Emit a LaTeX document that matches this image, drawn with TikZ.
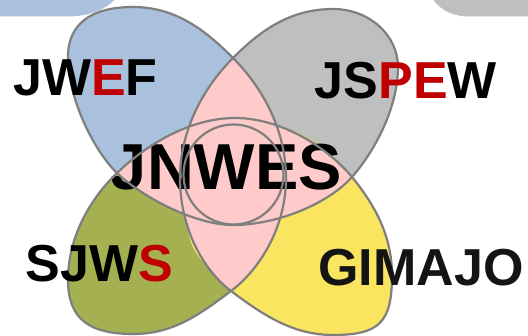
\documentclass[tikz,border=0pt]{standalone}
\usepackage{fontspec}
\setmainfont{Liberation Sans}
\definecolor{lobeblue}{HTML}{A9C1DC}
\definecolor{lobegray}{HTML}{BFBFBF}
\definecolor{lobeolive}{HTML}{A5B150}
\definecolor{lobeyellow}{HTML}{FAE560}
\definecolor{pinkc}{HTML}{FFCACA}
\definecolor{lineg}{HTML}{7F7F7F}
\definecolor{redc}{HTML}{C00000}
\definecolor{khakic}{HTML}{C9C69B}
\definecolor{darktxt}{HTML}{141414}
\begin{document}
\begin{tikzpicture}[x=1pt,y=-1pt,
  outline/.style={draw=lineg, line width=2.2pt},
  cornertxt/.style={font=\fontsize{52}{52}\selectfont\bfseries, inner sep=0pt, anchor=base},
  centertxt/.style={font=\fontsize{65}{65}\selectfont\bfseries, inner sep=0pt, anchor=base}]
\useasboundingbox (0,0) rectangle (528,336);
% partial shapes in the top corners
\fill[lobeblue] (-2,-2) -- (-2,16.5) -- (67,16.5) .. controls (88,16.5) and (106,10) .. (116,-2) -- cycle;
\fill[lobegray] (432,-2) .. controls (440,10) and (452,16.5) .. (470,16.5) -- (530,16.5) -- (530,-2) -- cycle;
% lobes
\begin{scope}
\clip (133,7) .. controls (178,7) and (208,33) .. (233,58)
 .. controls (265,90) and (286,133) .. (286,178)
 .. controls (286,228) and (259,270) .. (231,291)
 .. controls (199,315) and (173,334) .. (133,334)
 .. controls (88,334) and (68,318) .. (68,280)
 .. controls (68,235) and (92,197) .. (117,173)
 .. controls (146,145) and (190,118) .. (235,118)
 .. controls (280,118) and (326,146) .. (352,177)
 .. controls (374,204) and (392,235) .. (392,275)
 .. controls (392,322) and (380,335) .. (333,335)
 .. controls (293,335) and (263,315) .. (231,291)
 .. controls (203,270) and (180,228) .. (180,178)
 .. controls (180,133) and (201,90) .. (233,58)
 .. controls (258,33) and (288,9) .. (333,9)
 .. controls (369,9) and (398,35) .. (398,67)
 .. controls (398,107) and (375,151) .. (352,177)
 .. controls (329,203) and (278,225) .. (233,225)
 .. controls (195,225) and (142,197) .. (117,173)
 .. controls (95,152) and (68,100) .. (68,57)
 .. controls (68,24) and (91,7) .. (133,7) -- cycle;
\fill[lobeblue] (-10,-10) -- (233,-10) -- (233,175) -- (117,173) -- (-10,173) -- cycle;
\fill[lobegray] (233,-10) -- (540,-10) -- (540,177) -- (352,177) -- (233,175) -- cycle;
\fill[lobeolive] (-10,173) -- (117,173) -- (233,175) -- (231,291) -- (231,350) -- (-10,350) -- cycle;
\fill[lobeyellow] (352,177) -- (540,177) -- (540,350) -- (231,350) -- (231,291) -- (233,175) -- cycle;
\end{scope}
% thin slivers
\fill[khakic] (275.2,124.9) .. controls (316.9,137.9) .. (339.1,163.4) -- cycle;
\fill[lobeyellow] (184.4,213.8) .. controls (191.3,248.6) .. (211.3,271.6) -- cycle;
% common regions
\fill[pinkc] (233,58) .. controls (265,90) and (286,133) .. (286,178)
 .. controls (286,228) and (259,270) .. (231,291)
 .. controls (203,270) and (180,228) .. (180,178)
 .. controls (180,133) and (201,90) .. (233,58) -- cycle;
\fill[pinkc] (117,173) .. controls (146,145) and (190,118) .. (235,118)
 .. controls (280,118) and (326,146) .. (352,177)
 .. controls (329,203) and (278,225) .. (233,225)
 .. controls (195,225) and (142,197) .. (117,173) -- cycle;
% centre label
\node[centertxt] (tjnwes) at (226.5,190) {JNWES};
% outlines
\draw[outline] (133,7) .. controls (178,7) and (208,33) .. (233,58)
 .. controls (265,90) and (286,133) .. (286,178)
 .. controls (286,228) and (259,270) .. (231,291)
 .. controls (199,315) and (173,334) .. (133,334)
 .. controls (88,334) and (68,318) .. (68,280)
 .. controls (68,235) and (92,197) .. (117,173)
 .. controls (146,145) and (190,118) .. (235,118)
 .. controls (280,118) and (326,146) .. (352,177)
 .. controls (374,204) and (392,235) .. (392,275)
 .. controls (392,322) and (380,335) .. (333,335)
 .. controls (293,335) and (263,315) .. (231,291)
 .. controls (203,270) and (180,228) .. (180,178)
 .. controls (180,133) and (201,90) .. (233,58)
 .. controls (258,33) and (288,9) .. (333,9)
 .. controls (369,9) and (398,35) .. (398,67)
 .. controls (398,107) and (375,151) .. (352,177)
 .. controls (329,203) and (278,225) .. (233,225)
 .. controls (195,225) and (142,197) .. (117,173)
 .. controls (95,152) and (68,100) .. (68,57)
 .. controls (68,24) and (91,7) .. (133,7) -- cycle;
\draw[outline] (233.5,174.5) circle (50);
% corner labels
\node[cornertxt] (tjwef) at (85.5,96) {JW\textcolor{redc}{E}F};
\node[cornertxt] (tjspew) at (406,99) {JS\textcolor{redc}{PE}W};
\node[cornertxt] (tsjws) at (99.5,282) {SJW\textcolor{redc}{S}};
\node[cornertxt, text=darktxt] (tgimajo) at (421,286) {GIMAJO};
\end{tikzpicture}
\end{document}
